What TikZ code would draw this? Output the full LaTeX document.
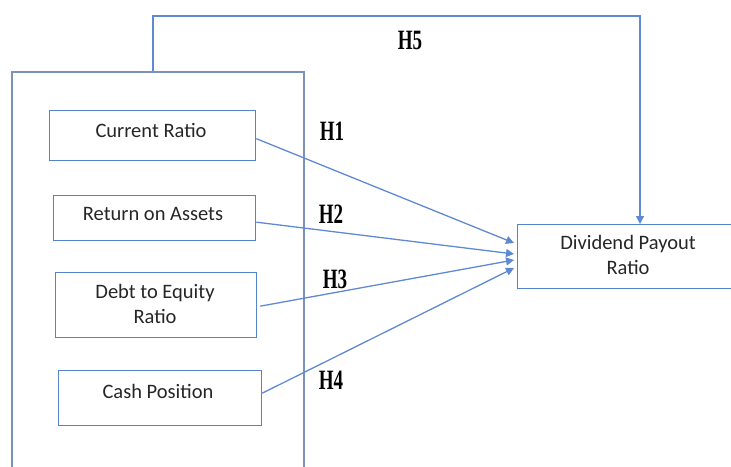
\documentclass[tikz,border=0pt]{standalone}
\usepackage{fontspec}
\setmainfont{Carlito}
\newfontfamily\hfont{Liberation Serif}
\usetikzlibrary{arrows.meta,calc}
\definecolor{outerc}{RGB}{122,145,190}
\definecolor{boxc}{RGB}{84,130,203}
\definecolor{linec}{RGB}{95,138,210}
\definecolor{txtc}{RGB}{38,38,38}
\tikzset{
  outerbox/.style={draw=outerc, line width=1.8pt, minimum width=292pt, minimum height=410pt, inner sep=0pt},
  varbox/.style={draw=boxc, line width=1.3pt, inner sep=0pt},
  vartext/.style={text=txtc, font=\fontsize{20.5}{24.5}\selectfont, align=center, inner sep=0pt},
  hlabel/.style={font=\hfont\bfseries\fontsize{28}{30}\selectfont, text=black, inner sep=0pt, xscale=0.68},
  conn/.style={draw=linec, line width=1.3pt, -{Triangle[length=8pt,width=8pt]}},
}
\begin{document}
\begin{tikzpicture}[x=1pt,y=-1pt]
\useasboundingbox (0,0) rectangle (731,466);
\clip (0,0) rectangle (731,466);
% outer frame (bottom edge below the page)
\node[outerbox, anchor=north west] (outer) at (11,71) {};
% variable boxes
\node[varbox, minimum width=206pt, minimum height=50pt, anchor=north west] (cr) at (49,110) {};
\node[varbox, minimum width=202pt, minimum height=45pt, anchor=north west] (roa) at (53,195) {};
\node[varbox, minimum width=201pt, minimum height=65pt, anchor=north west] (der) at (55,272) {};
\node[varbox, minimum width=203pt, minimum height=55pt, anchor=north west] (cp) at (58,370) {};
\node[varbox, minimum width=230pt, minimum height=64pt, anchor=north west] (dpr) at (517,224) {};
% texts
\node[vartext] (crt) at (151,130) {Current Ratio};
\node[vartext] (roat) at (153,214) {Return on Assets};
\node[vartext] (dert) at (155,304) {Debt to Equity\\Ratio};
\node[vartext] (cpt) at (158,391) {Cash Position};
\node[vartext] (dprt) at (628,255) {Dividend Payout\\Ratio};
% arrow targets
\coordinate (t1) at ($(dpr.north west)+(-3,19)$);
\coordinate (t2) at ($(dpr.north west)+(-3,30)$);
\coordinate (t3) at ($(dpr.north west)+(-3,36)$);
\coordinate (t4) at ($(dpr.north west)+(-3,44)$);
\draw[conn] ($(cr.east)+(0,3)$) -- (t1);
\draw[conn] ($(roa.east)+(0,4)$) -- (t2);
\draw[conn] ($(der.east)+(3,1)$) -- (t3);
\draw[conn] ($(cp.east)+(0,-5)$) -- (t4);
% H5 path
\coordinate (h5a) at (153,16);
\coordinate (h5b) at (640,16);
\draw[conn] (outer.north -| h5a) -- (h5a) -- (h5b) -- (dpr.north -| h5b);
% labels
\node[hlabel] (h1) at (332,131) {H1};
\node[hlabel] (h2) at (331,214) {H2};
\node[hlabel] (h3) at (335,279) {H3};
\node[hlabel] (h4) at (331,380) {H4};
\node[hlabel] (h5) at (410,40) {H5};
\end{tikzpicture}
\end{document}
